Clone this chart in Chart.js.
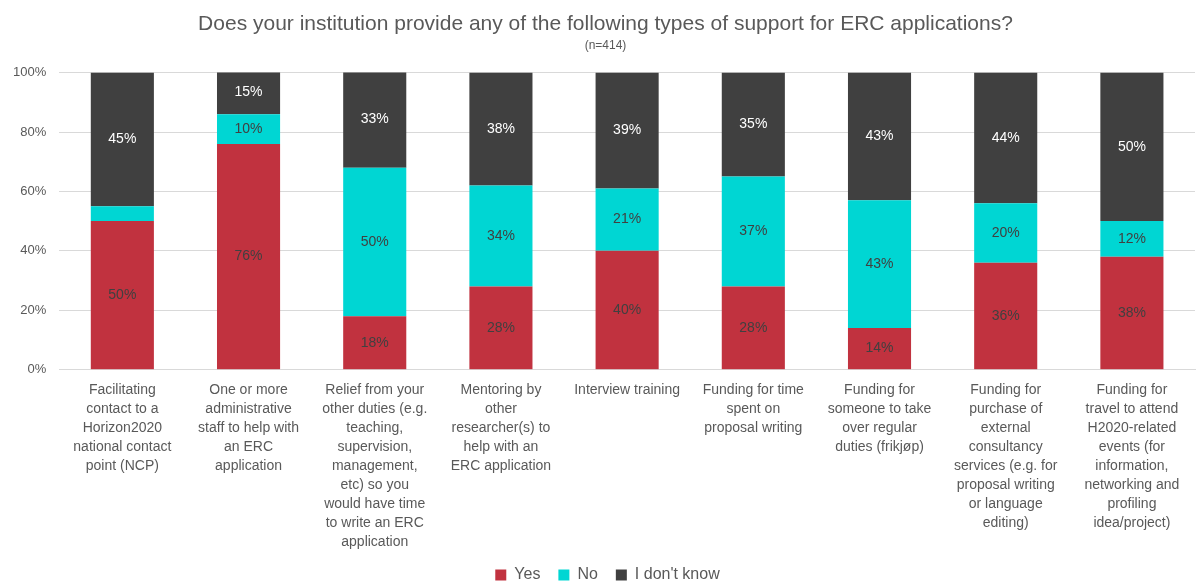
<!DOCTYPE html>
<html>
<head>
<meta charset="utf-8">
<title>Support for ERC applications</title>
<script src="https://cdn.jsdelivr.net/npm/chart.js@4/dist/chart.umd.min.js"></script>
<style>
  html, body { margin: 0; padding: 0; background: #fff; }
  #wrap { width: 1197px; height: 583px; }
</style>
</head>
<body>
<div id="wrap"><canvas id="chartCanvas"></canvas></div>
<script>
// Categories (one bar each), wrapped the way the axis shows them
const categories = [
  ["Facilitating", "contact to a", "Horizon2020", "national contact", "point (NCP)"],
  ["One or more", "administrative", "staff to help with", "an ERC", "application"],
  ["Relief from your", "other duties (e.g.", "teaching,", "supervision,", "management,", "etc) so you", "would have time", "to write an ERC", "application"],
  ["Mentoring by", "other", "researcher(s) to", "help with an", "ERC application"],
  ["Interview training"],
  ["Funding for time", "spent on", "proposal writing"],
  ["Funding for", "someone to take", "over regular", "duties (frikjøp)"],
  ["Funding for", "purchase of", "external", "consultancy", "services (e.g. for", "proposal writing", "or language", "editing)"],
  ["Funding for", "travel to attend", "H2020-related", "events (for", "information,", "networking and", "profiling", "idea/project)"]
];

// Share of respondents, in %
const yesValues = [50, 76, 18, 28, 40, 28, 14, 36, 38];
const noValues = [5, 10, 50, 34, 21, 37, 43, 20, 12];
const dontKnowValues = [45, 15, 33, 38, 39, 35, 43, 44, 50];

// Segments this small carry no label
const hiddenLabels = { 1: [0] };

const yTicks = [0, 20, 40, 60, 80, 100];

const FONT = "'Liberation Sans', Arial, sans-serif";
const GREY = "#595959";

// Percent labels inside the stacked segments
const segmentLabels = {
  id: "segmentLabels",
  afterDatasetsDraw(chart) {
    const { ctx } = chart;
    ctx.save();
    ctx.font = "14px " + FONT;
    ctx.textAlign = "center";
    ctx.textBaseline = "middle";
    chart.data.datasets.forEach((ds, di) => {
      const meta = chart.getDatasetMeta(di);
      meta.data.forEach((bar, i) => {
        if (hiddenLabels[di] && hiddenLabels[di].includes(i)) return;
        const y = (bar.y + bar.base) / 2;
        ctx.fillStyle = ds.labelColor;
        ctx.fillText(ds.data[i] + "%", bar.x, y);
      });
    });
    ctx.restore();
  }
};

// Legend sits lower, titles a bit right of the canvas centre
const nudgeBlocks = {
  id: "nudgeBlocks",
  afterLayout(chart) {
    const lg = chart.legend;
    lg.top += 10;
    lg.bottom += 10;
    lg.left += 18;
    lg.right += 18;
    chart.boxes.forEach(box => {
      if (box !== lg && box.options && typeof box.options.text === "string") {
        box.left += 8;
        box.right += 8;
      }
    });
  }
};

const ctx = document.getElementById("chartCanvas").getContext("2d");

const chart = new Chart(ctx, {
  type: "bar",
  data: {
    labels: categories,
    datasets: [
      { label: "Yes", data: yesValues, backgroundColor: "#C1323F", labelColor: "#404040" },
      { label: "No", data: noValues, backgroundColor: "#00D6D3", labelColor: "#404040" },
      { label: "I don't know", data: dontKnowValues, backgroundColor: "#404040", labelColor: "#FFFFFF" }
    ]
  },
  options: {
    responsive: true,
    maintainAspectRatio: false,
    animation: false,
    layout: { padding: { left: 0, right: 2, top: 0, bottom: 0 } },
    datasets: {
      bar: { categoryPercentage: 0.5, barPercentage: 1 }
    },
    scales: {
      x: {
        stacked: true,
        grid: { display: false },
        border: { color: "#D9D9D9", width: 1 },
        ticks: {
          autoSkip: false,
          maxRotation: 0,
          minRotation: 0,
          color: GREY,
          padding: 3,
          font: { family: FONT, size: 14, lineHeight: 1.36 }
        }
      },
      y: {
        stacked: true,
        min: 0,
        max: 100,
        afterBuildTicks(axis) {
          axis.ticks = yTicks.map(v => ({ value: v }));
        },
        grid: { color: "#D9D9D9", drawTicks: false },
        border: { display: false },
        ticks: {
          color: GREY,
          padding: 13,
          font: { family: FONT, size: 13 },
          callback: v => v + "%"
        }
      }
    },
    plugins: {
      title: {
        display: true,
        text: "Does your institution provide any of the following types of support for ERC applications?",
        color: GREY,
        font: { family: FONT, size: 21, weight: "normal" },
        padding: { top: 12, bottom: 0 }
      },
      subtitle: {
        display: true,
        text: "(n=414)",
        color: GREY,
        font: { family: FONT, size: 12 },
        padding: { top: 1, bottom: 20 }
      },
      legend: {
        position: "bottom",
        labels: {
          color: GREY,
          boxWidth: 11,
          boxHeight: 11,
          padding: 2,
          font: { family: FONT, size: 16 },
          // a little extra room after each entry
          generateLabels(chart) {
            return Chart.defaults.plugins.legend.labels.generateLabels(chart)
              .map(item => ({ ...item, text: item.text + "\u2003" }));
          }
        }
      },
      tooltip: { enabled: false }
    }
  },
  plugins: [segmentLabels, nudgeBlocks]
});
</script>
</body>
</html>
